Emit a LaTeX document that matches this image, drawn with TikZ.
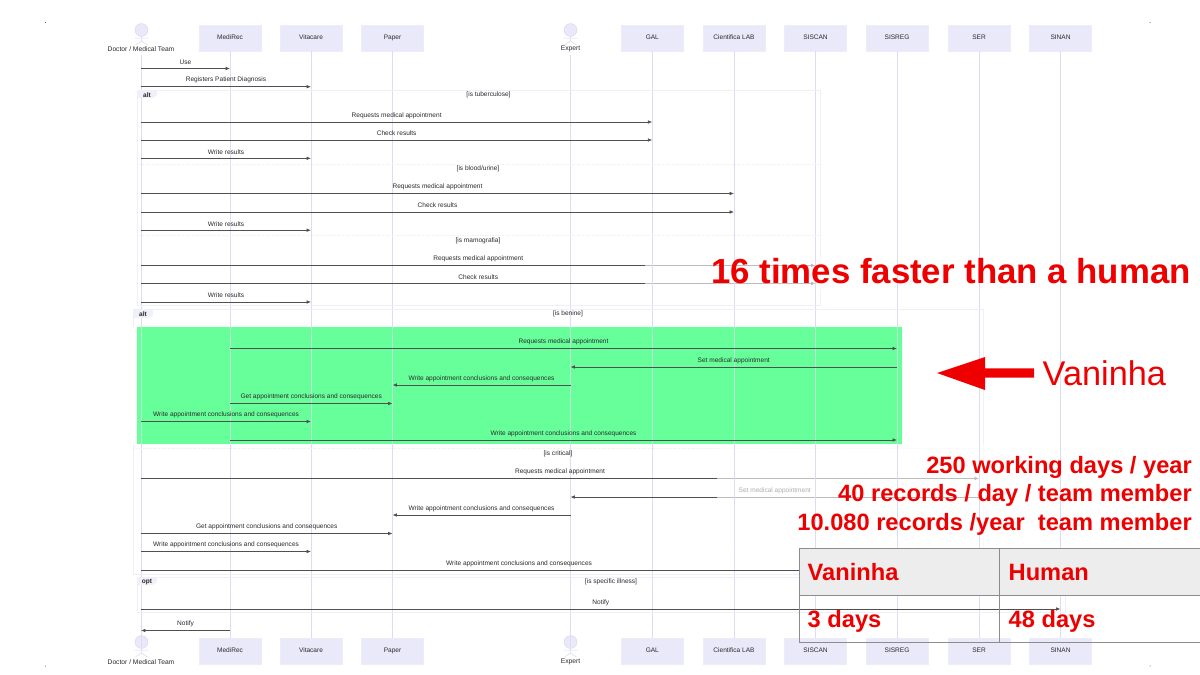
\documentclass[tikz,border=0pt]{standalone}
\usepackage{fontspec}
\setmainfont{Liberation Sans}
\usetikzlibrary{arrows.meta}
\newcommand{\pxf}[1]{\fontsize{#1}{#1}\selectfont}
\newcommand{\bl}[1]{\raisebox{1.8pt}{#1}}
\tikzset{
  box/.style={fill=boxc,draw=boxe,line width=.4pt,minimum width=62pt,minimum height=25.4pt,inner sep=0pt,text=txt,font=\pxf{6.55}},
  actorlabel/.style={inner sep=0pt,text=txt,font=\pxf{6.7}},
  actorshape/.style={fill=boxc,draw=actc,line width=.5pt},
  actorline/.style={draw=actc,line width=.5pt},
  lifeline/.style={draw=lifec,line width=.7pt},
  lifegreen/.style={draw=lifeg,line width=.7pt},
  frameline/.style={draw=framec,line width=.6pt},
  divider/.style={draw=framec,line width=.6pt,dash pattern=on 1.5pt off 1pt},
  msgline/.style={draw=msgc,line width=.7pt,-{Latex[length=4.4pt,width=3.6pt]}},
  msglabel/.style={midway,yshift=6.4pt,inner sep=0pt,text=txt,font=\pxf{6.55}},
  guard/.style={inner sep=0pt,text=txt,font=\pxf{6.55}},
  tag/.style={fill=boxc!70!white,draw=none},
  tagtext/.style={inner sep=0pt,text=txt,font=\pxf{6.55}\bfseries},
  veil/.style={fill=white,draw=none,fill opacity=.62},
  bigred/.style={inner sep=0pt,text=redc,font=\pxf{34.8}\bfseries,anchor=base east},
  midred/.style={inner sep=0pt,text=redc,font=\pxf{23.65}\bfseries,anchor=base east},
  cellred/.style={inner sep=0pt,text=redc,font=\pxf{23.65}\bfseries,anchor=base west},
  gridline/.style={draw=gridc,line width=.7pt}
}
\definecolor{boxc}{HTML}{E9E9FA}
\definecolor{boxe}{HTML}{EDEDFA}
\definecolor{actc}{HTML}{DAD8F2}
\definecolor{lifec}{HTML}{DEDCF4}
\definecolor{lifeg}{HTML}{BDE6D6}
\definecolor{framec}{HTML}{EFEEFB}
\definecolor{msgc}{HTML}{505050}
\definecolor{txt}{HTML}{2A2A2A}
\definecolor{redc}{HTML}{EE0000}
\definecolor{greenc}{HTML}{66FF99}
\definecolor{gridc}{HTML}{8C8C8C}
\newcommand{\msg}[4]{\draw[msgline] (#1 |- 0,#3) -- node[msglabel]{#4} (#2 |- 0,#3);}
\newcommand{\actorfig}[2]{%
  \draw[actorshape] (#1,#2) circle (6.4pt);
  \draw[actorline] (#1-7,#2+8) -- (#1+7,#2+8) (#1,#2+6.4) -- (#1,#2+11) (#1,#2+11) -- (#1-6,#2+15) (#1,#2+11) -- (#1+6,#2+15);}
\newcommand{\lifelines}[1]{%
  \draw[#1] (141.5,55) -- (141.5,648.5);
  \draw[#1] (570.5,55) -- (570.5,648.5);
  \foreach \n in {2,3,4,6,7,8,9,10,11} {\draw[#1] (t\n) -- (b\n);}}
\begin{document}
\begin{tikzpicture}[x=1pt,y=-1pt]
\useasboundingbox (0,0) rectangle (1200,675);
\fill[white] (0,0) rectangle (1200,675);
% corner marks
\fill[black!70] (45.3,22.5) circle (.5pt) (1150,22.5) circle (.5pt) (45.3,666) circle (.5pt) (1150,666) circle (.5pt);
% participants
\actorfig{141.5}{30}
\actorfig{570.5}{30}
\actorfig{141.5}{642}
\actorfig{570.5}{642}
\node[actorlabel] (t1) at (141,49.3) {Doctor / Medical Team};
\node[box] (t2) at (230,38) {\bl{MediRec}};
\node[box] (t3) at (311,38) {\bl{Vitacare}};
\node[box] (t4) at (392.5,38) {\bl{Paper}};
\node[actorlabel] (t5) at (570.5,49.3) {Expert};
\node[box] (t6) at (652.3,38) {\bl{GAL}};
\node[box] (t7) at (734,38) {\bl{Cientifica LAB}};
\node[box] (t8) at (815.5,38) {\bl{SISCAN}};
\node[box] (t9) at (897,38) {\bl{SISREG}};
\node[box] (t10) at (979,38) {\bl{SER}};
\node[box] (t11) at (1060.5,38) {\bl{SINAN}};
\node[actorlabel] (b1) at (141,662.3) {Doctor / Medical Team};
\node[box] (b2) at (230,651) {\bl{MediRec}};
\node[box] (b3) at (311,651) {\bl{Vitacare}};
\node[box] (b4) at (392.5,651) {\bl{Paper}};
\node[actorlabel] (b5) at (570.5,662.3) {Expert};
\node[box] (b6) at (652.3,651) {\bl{GAL}};
\node[box] (b7) at (734,651) {\bl{Cientifica LAB}};
\node[box] (b8) at (815.5,651) {\bl{SISCAN}};
\node[box] (b9) at (897,651) {\bl{SISREG}};
\node[box] (b10) at (979,651) {\bl{SER}};
\node[box] (b11) at (1060.5,651) {\bl{SINAN}};
% green highlight
\fill[greenc] (137,326.5) rectangle (902,443.5);
% lifelines
\lifelines{lifeline}
\begin{scope}
\clip (137,326.5) rectangle (902,443.5);
\lifelines{lifegreen}
\end{scope}
% frames
\draw[frameline] (137,90) rectangle (820,305);
\draw[divider] (137,164) -- (820,164);
\draw[divider] (137,235.7) -- (820,235.7);
\draw[frameline] (133,326.5) -- (133,309.5) -- (983,309.5) -- (983,574) -- (133,574) -- (133,443.5);
\draw[divider] (133,448) -- (983,448);
\draw[frameline] (137,577) rectangle (1065,612);
% frame tags
\fill[tag] (137,90) -- (157,90) -- (157,95) -- (153,98) -- (137,98) -- cycle;
\fill[tag] (133,309.5) -- (153,309.5) -- (153,315) -- (149,318) -- (133,318) -- cycle;
\fill[tag] (137,577) -- (157,577) -- (157,582) -- (153,585) -- (137,585) -- cycle;
\node[tagtext] (tagA) at (147,95) {alt};
\node[tagtext] (tagB) at (143,314) {alt};
\node[tagtext] (tagC) at (147,582) {opt};
% guards
\node[guard] (g1) at (488.5,95) {[is tuberculose]};
\node[guard] (g2) at (478,169) {[is blood/urine]};
\node[guard] (g3) at (478,240.7) {[is mamografia]};
\node[guard] (g4) at (568,314) {[is benine]};
\node[guard] (g5) at (558,454) {[is critical]};
\node[guard] (g6) at (611,582) {[is specific illness]};
% messages
\msg{t1}{t2}{68.5}{Use}
\msg{t1}{t3}{86.7}{Registers Patient Diagnosis}
\msg{t1}{t6}{122}{Requests medical appointment}
\msg{t1}{t6}{140}{Check results}
\msg{t1}{t3}{158.3}{Write results}
\msg{t1}{t7}{193.5}{Requests medical appointment}
\msg{t1}{t7}{212}{Check results}
\msg{t1}{t3}{230.2}{Write results}
\msg{t1}{t8}{265.5}{Requests medical appointment}
\msg{t1}{t8}{283.5}{Check results}
\msg{t1}{t3}{302}{Write results}
\msg{t2}{t9}{348.5}{Requests medical appointment}
\msg{t9}{t5}{367}{Set medical appointment}
\msg{t5}{t4}{385}{Write appointment conclusions and consequences}
\msg{t2}{t4}{403.5}{Get appointment conclusions and consequences}
\msg{t1}{t3}{421.5}{Write appointment conclusions and consequences}
\msg{t2}{t9}{440}{Write appointment conclusions and consequences}
\msg{t1}{t10}{478.5}{Requests medical appointment}
\msg{t10}{t5}{497}{Set medical appointment}
\msg{t5}{t4}{515}{Write appointment conclusions and consequences}
\msg{t1}{t4}{533.5}{Get appointment conclusions and consequences}
\msg{t1}{t3}{551.5}{Write appointment conclusions and consequences}
\msg{t1}{t9}{570}{Write appointment conclusions and consequences}
\msg{t1}{t11}{609}{Notify}
\msg{t2}{t1}{630.5}{Notify}
% pale panels behind the red notes
\fill[veil] (645,256) rectangle (1200,292);
\fill[veil] (717,444) rectangle (1200,548.5);
\begin{scope}
\clip (645,256) rectangle (1200,292) (717,444) rectangle (1200,548.5);
\lifelines{lifeline}
\end{scope}
% notes
\node[bigred] (n1) at (1191,283) {16 times faster than a human};
\fill[redc] (937,373) -- (985,357) -- (985,368.3) -- (1034,368.3) -- (1034,377.7) -- (985,377.7) -- (985,390) -- cycle;
\node[inner sep=0pt,text=redc,font=\pxf{34.3},anchor=base west] (n2) at (1042.5,385) {Vaninha};
\node[midred] (n3) at (1192,473) {250 working days / year};
\node[midred] (n4) at (1192,501.5) {40 records / day / team member};
\node[midred] (n5) at (1192,530) {10.080 records /year\ \ team member};
% table
\fill[black!7] (799,548.7) rectangle (1205,595);
\draw[gridline] (1205,548.7) -- (799,548.7) -- (799,642.3) -- (1205,642.3);
\draw[gridline] (799,595) -- (1205,595);
\draw[gridline] (999.5,548.7) -- (999.5,642.3);
\node[cellred] (c1) at (807.5,580.5) {Vaninha};
\node[cellred] (c2) at (1008.5,580.5) {Human};
\node[cellred] (c3) at (807.5,627.5) {3 days};
\node[cellred] (c4) at (1008.5,627.5) {48 days};
\end{tikzpicture}
\end{document}
